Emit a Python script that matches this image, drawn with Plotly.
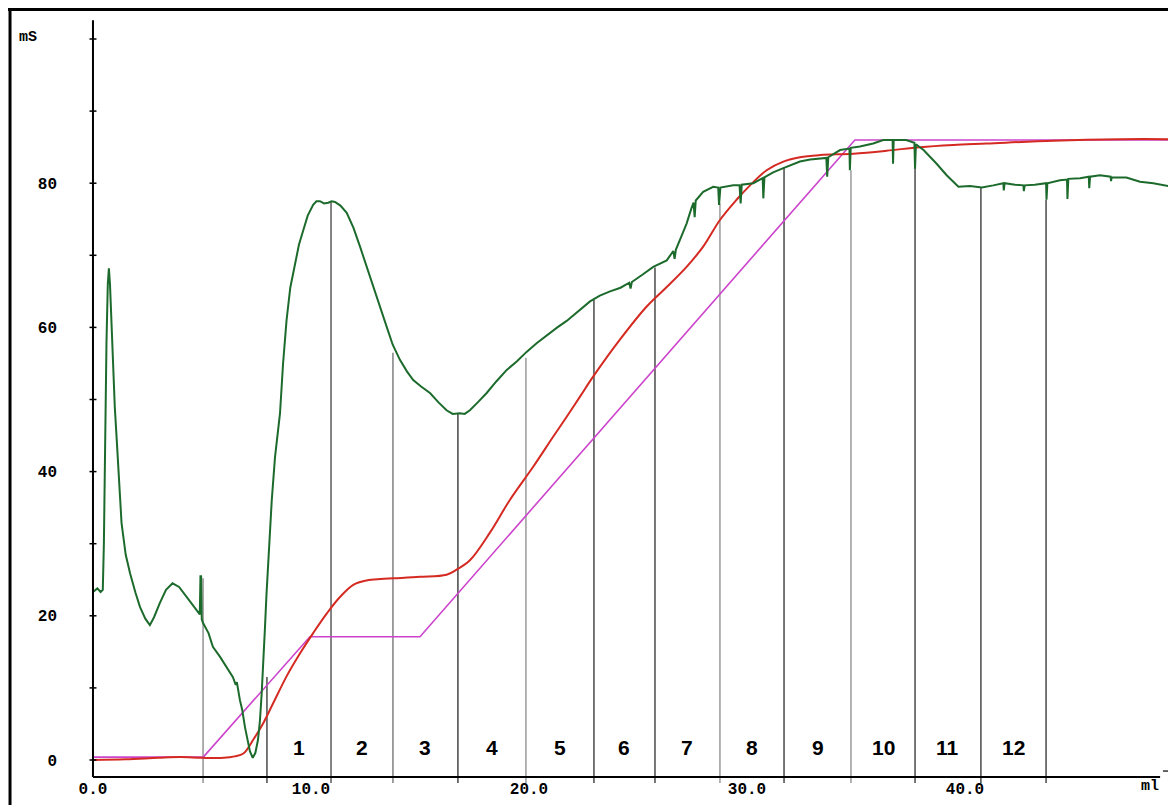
import plotly.graph_objects as go

# ---------------- data ----------------
# conductivity trace (mS) vs volume (ml)
green_x = [0.0, 0.2, 0.35, 0.45, 0.5, 0.56, 0.62, 0.68, 0.73, 0.78, 0.85, 0.92, 1.0, 1.09, 1.2, 1.31, 1.5, 1.7,
           1.95, 2.16, 2.4, 2.61, 2.8, 3.07, 3.35, 3.65, 3.95, 4.3, 4.6, 4.83, 4.9, 4.93, 4.96, 4.99, 5.05, 5.3,
           5.5, 5.83, 6.05, 6.28, 6.42, 6.55, 6.6, 6.74, 6.85, 6.97, 7.1, 7.2, 7.33, 7.45, 7.57, 7.66, 7.74, 7.82,
           7.89, 7.96, 8.04, 8.2, 8.35, 8.58, 8.72, 8.88, 9.05, 9.27, 9.45, 9.65, 9.85, 10.1, 10.25, 10.41, 10.6,
           10.79, 10.95, 11.1, 11.35, 11.64, 11.95, 12.25, 12.55, 12.86, 13.15, 13.47, 13.75, 14.08, 14.4, 14.69,
           15.05, 15.46, 15.85, 16.22, 16.5, 16.83, 17.05, 17.29, 17.65, 18.06, 18.5, 18.98, 19.45, 19.89, 20.35,
           20.81, 21.3, 21.73, 22.3, 22.8, 23.25, 23.72, 24.2, 24.6, 24.66, 24.72, 25.2, 25.7, 26.32, 26.62, 26.68,
           26.74, 27.0, 27.23, 27.45, 27.55, 27.6, 27.65, 27.99, 28.45, 28.68, 28.72, 28.78, 29.37, 29.66, 29.71,
           29.76, 30.29, 30.72, 30.75, 30.8, 31.2, 31.67, 32.05, 32.43, 32.9, 33.35, 33.64, 33.68, 33.73, 34.27,
           34.57, 34.7, 34.72, 34.76, 35.18, 35.79, 36.25, 36.68, 36.7, 36.73, 37.3, 37.68, 37.71, 37.75, 38.1,
           38.4, 38.7, 39.16, 39.45, 39.7, 40.23, 40.77, 41.3, 41.76, 41.78, 41.82, 42.3, 42.68, 42.7, 42.74, 43.2,
           43.72, 43.74, 43.78, 44.36, 44.68, 44.7, 44.74, 45.28, 45.68, 45.7, 45.74, 46.19, 46.68, 46.7, 46.73,
           47.4, 48.03, 48.64, 49.2, 49.48, 49.55, 49.68]
green_y = [23.3, 23.8, 23.3, 23.6, 30.0, 45.0, 58.0, 66.0, 68.2, 66.0, 60.0, 54.0, 49.0, 44.4, 38.5, 32.9, 28.5, 25.9,
           23.2, 21.2, 19.6, 18.7, 19.8, 21.8, 23.6, 24.5, 24.0, 22.6, 21.3, 20.4, 20.2, 25.5, 25.5, 19.5, 19.0, 17.6,
           15.7, 14.3, 13.3, 12.1, 11.5, 10.4, 10.8, 8.3, 6.9, 4.6, 2.5, 1.2, 0.3, 1.0, 2.8, 5.5, 9.3, 13.5,
           18.4, 23.0, 27.7, 36.0, 42.0, 48.1, 55.0, 61.0, 65.5, 68.9, 71.5, 73.5, 75.5, 77.0, 77.5, 77.5, 77.2,
           77.3, 77.5, 77.4, 76.9, 75.9, 73.8, 71.2, 68.4, 65.6, 62.8, 60.1, 57.6, 55.5, 53.9, 52.7,
           51.8, 50.9, 49.6, 48.5, 48.0, 48.1, 48.0, 48.5, 49.6, 50.9, 52.5, 54.1, 55.3, 56.6, 57.8,
           58.9, 60.0, 60.9, 62.4, 63.6, 64.4, 65.0, 65.5, 66.2, 65.4, 66.3, 67.3, 68.4, 69.3, 70.6, 69.5,
           70.8, 72.7, 74.4, 76.5, 77.3, 75.3, 77.6, 78.8, 79.5, 79.4, 77.0, 79.4, 79.7, 79.7, 77.2,
           79.8, 80.0, 80.7, 77.9, 80.8, 81.5, 82.1, 82.6, 83.0, 83.3, 83.4, 83.5, 80.9, 83.6, 84.6,
           84.8, 84.8, 81.8, 84.9, 85.1, 85.5, 86.0, 86.0, 82.7, 86.0, 86.0, 85.6, 82.0, 85.4, 84.6,
           83.7, 82.7, 81.1, 80.2, 79.5, 79.6, 79.4, 79.7, 80.0, 79.0, 80.0, 79.8, 79.7, 78.9, 79.7, 79.8,
           80.0, 77.7, 80.0, 80.4, 80.5, 77.8, 80.6, 80.7, 80.9, 79.3, 80.9, 81.1, 80.9, 80.3, 80.8,
           80.8, 80.2, 80.0, 79.7, 79.5, 77.2, 77.2]

# concentration trace (red)
red_x = [0.0, 1.5, 3.0, 4.0, 5.0, 6.0, 6.5, 6.9, 7.35, 7.81, 8.27, 8.88, 9.5, 10.1, 10.72, 11.33, 11.94, 12.55,
         13.2, 13.78, 15.0, 16.22, 16.68, 17.29, 18.2, 19.13, 20.2, 21.1, 21.73, 22.34, 22.95, 24.17, 25.4,
         26.32, 27.23, 27.99, 28.76, 29.52, 30.14, 30.9, 31.67, 32.43, 33.35, 34.88, 36.4, 37.94, 39.46, 41.0,
         44.05, 47.1, 49.68]
red_y = [0.0, 0.1, 0.3, 0.4, 0.3, 0.3, 0.5, 0.9, 2.8, 5.1, 7.9, 11.6, 14.8, 17.6, 20.3, 22.6, 24.3, 24.9,
         25.1, 25.2, 25.4, 25.7, 26.4, 27.7, 31.5, 36.1, 40.7, 44.8, 47.6, 50.4, 53.2, 58.3, 62.9,
         65.6, 68.4, 71.2, 74.9, 77.7, 79.7, 81.8, 83.0, 83.6, 83.9, 84.1, 84.5, 85.0, 85.3, 85.5,
         85.9, 86.1, 86.1]

# programmed gradient (magenta)
grad_x = [0.0, 5.06, 9.95, 15.0, 34.95, 49.68]
grad_y = [0.4, 0.4, 17.1, 17.1, 86.0, 86.0]

# fraction boundaries (ml) and height of the marker up to the trace
frac_x = [5.05, 7.98, 10.92, 13.76, 16.74, 19.86, 22.98, 25.78, 28.76, 31.7, 34.77, 37.71, 40.73, 43.72]
frac_top = [25.2, 11.5, 77.4, 56.5, 48.1, 55.8, 63.8, 68.3, 77.2, 82.2, 81.8, 82.1, 79.4, 77.7]
frac_labels = ["1", "2", "3", "4", "5", "6", "7", "8", "9", "10", "11", "12"]

x_tickvals = [0, 10, 20, 30, 40]
x_ticktext = ["0.0", "10.0", "20.0", "30.0", "40.0"]
y_tickvals = [0, 20, 40, 60, 80]
y_ticktext = ["0", "20", "40", "60", "80"]
y_minor = [0, 10, 20, 30, 40, 50, 60, 70, 80, 90, 100]

# ---------------- styling ----------------
frac_colors = ["#9a9a9a", "#555555", "#666666", "#888888", "#505050", "#a0a0a0", "#555555",
               "#555555", "#a0a0a0", "#555555", "#a0a0a0", "#555555", "#555555", "#555555"]
MONO = "Liberation Mono, Courier New, monospace"
SANS = "Liberation Sans, Arial, sans-serif"
X0, X1 = -0.32, 49.68
Y0, Y1 = -3.19, 103.19
AXIS_Y = -2.36

fig = go.Figure()

shapes = []
for fx, ft, c in zip(frac_x, frac_top, frac_colors):
    shapes.append(dict(type="line", xref="x", yref="y", x0=fx, x1=fx, y0=Y0, y1=ft,
                       line=dict(color=c, width=1.6), layer="below"))

fig.add_trace(go.Scatter(x=grad_x, y=grad_y, mode="lines",
                         line=dict(color="#cc44cc", width=1.6), hoverinfo="skip", showlegend=False))
fig.add_trace(go.Scatter(x=red_x, y=red_y, mode="lines", line_shape="spline",
                         line=dict(color="#d42a22", width=2.0), hoverinfo="skip", showlegend=False))
fig.add_trace(go.Scatter(x=green_x, y=green_y, mode="lines",
                         line=dict(color="#1d6b2c", width=2.0), hoverinfo="skip", showlegend=False))
fig.add_trace(go.Scatter(x=[0] * len(y_minor), y=y_minor, mode="markers",
                         marker=dict(symbol="line-ew-open", size=5, color="black",
                                     line=dict(color="black", width=1.5)),
                         hoverinfo="skip", showlegend=False, cliponaxis=False))

# axes lines
shapes.append(dict(type="line", xref="x", yref="y", x0=0, x1=0, y0=AXIS_Y, y1=102.6,
                   line=dict(color="black", width=2)))
shapes.append(dict(type="line", xref="x", yref="y", x0=0, x1=48.95, y0=AXIS_Y, y1=AXIS_Y,
                   line=dict(color="black", width=2)))
shapes.append(dict(type="line", xref="x", yref="y", x0=49.08, x1=49.45, y0=-1.53, y1=-1.53,
                   line=dict(color="black", width=1.2)))
# picture frame (left and top)
shapes.append(dict(type="line", xref="paper", yref="paper", x0=-0.0697, x1=-0.0697, y0=1.0086, y1=-0.05,
                   line=dict(color="black", width=3)))
shapes.append(dict(type="line", xref="paper", yref="paper", x0=-0.072, x1=1.01, y0=1.0086, y1=1.0086,
                   line=dict(color="black", width=3)))

annotations = []
for i, lab in enumerate(frac_labels):
    xm = (frac_x[i + 1] + frac_x[i + 2]) / 2
    annotations.append(dict(x=xm, y=1.7, xref="x", yref="y", text="<b>%s</b>" % lab, showarrow=False,
                            xanchor="center", yanchor="middle",
                            font=dict(family=SANS, size=21, color="black")))
annotations.append(dict(x=-0.0532, y=0.9725, xref="paper", yref="paper", text="<b>mS</b>",
                        xanchor="center", yanchor="middle",
                        showarrow=False, font=dict(family=MONO, size=15, color="black")))
annotations.append(dict(x=0.976, y=-0.005, xref="paper", yref="paper", text="<b>ml</b>",
                        xanchor="center", yanchor="middle",
                        showarrow=False, font=dict(family=MONO, size=15, color="black")))

# page body has an 8px margin: the figure is sized/offset to land on the same pixels
fig.update_layout(
    width=1168, height=797,
    margin=dict(l=78, r=0, t=8, b=22, autoexpand=False),
    paper_bgcolor="white", plot_bgcolor="white",
    shapes=shapes, annotations=annotations,
    xaxis=dict(range=[X0, X1], showgrid=False, zeroline=False, showline=False, automargin=False,
               tickvals=x_tickvals, ticktext=["<b>%s</b>" % t for t in x_ticktext], ticks="",
               tickfont=dict(family=MONO, size=16, color="black"), ticklabelstandoff=-6),
    yaxis=dict(range=[Y0, Y1], showgrid=False, zeroline=False, showline=False, automargin=False,
               tickvals=y_tickvals, ticktext=["<b>%s</b>" % t for t in y_ticktext], ticks="",
               tickfont=dict(family=MONO, size=16, color="black"), ticklabelstandoff=28),
)

fig.write_html("out.html")
